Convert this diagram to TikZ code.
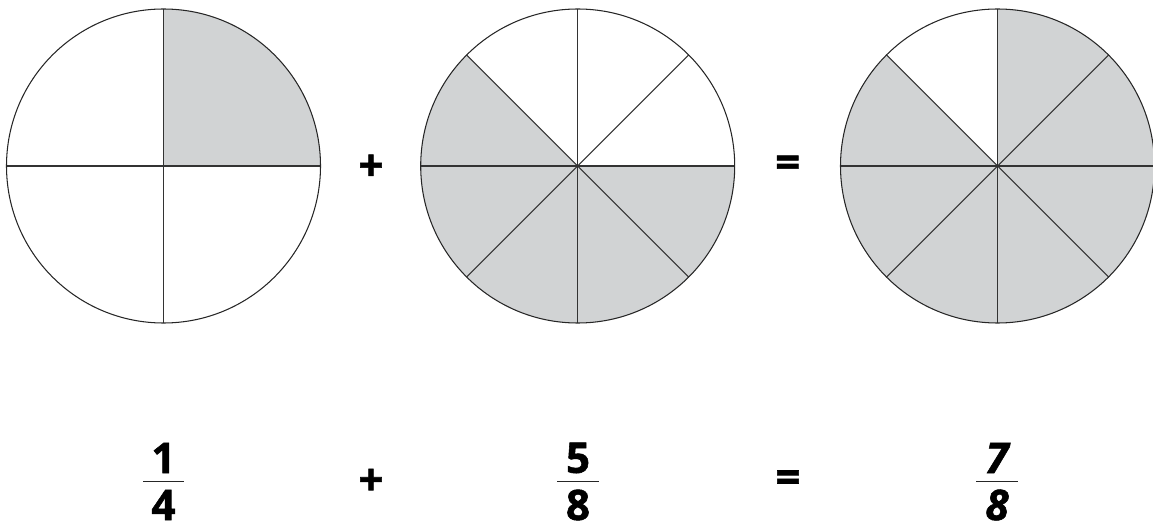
\documentclass[tikz,border=0pt]{standalone}
\usepackage{fontspec}
\setmainfont{Open Sans}
\newfontfamily\heavyfont{Open Sans}[BoldFeatures={FakeBold=1.3}, BoldItalicFeatures={FakeBold=1.3}]
\usepackage{tikz}
\usetikzlibrary{positioning,calc}

\definecolor{pieshade}{RGB}{209,211,212}

\begin{document}
\begin{tikzpicture}[
    x=0.02cm, y=0.02cm,
    pie/.style={draw=black!85, line width=0.6pt},
    spoke/.style={draw=black!80, line width=0.6pt},
    slice/.style={fill=pieshade},
    digit/.style={font=\fontsize{24}{29}\selectfont\heavyfont\bfseries, inner sep=0pt},
    sign/.style={font=\fontsize{25}{30}\selectfont\heavyfont\bfseries, inner sep=0pt},
    fracbar/.style={draw=black!85, line width=1.1pt}
]
    \useasboundingbox (0,0) rectangle (1153,528);
    \coordinate (c1) at (163.5,362);
    \coordinate (c2) at (577.7,362);
    \coordinate (c3) at (997.5,362);

    % shaded parts
    \fill[slice] (c1) -- ++(0:157) arc[start angle=0, end angle=90, radius=157] -- cycle;
    \foreach \a in {135,180,225,270,315}
        \fill[slice] (c2) -- ++(\a:157) arc[start angle=\a, end angle=\a+45, radius=157] -- cycle;
    \foreach \a in {0,45,135,180,225,270,315}
        \fill[slice] (c3) -- ++(\a:157) arc[start angle=\a, end angle=\a+45, radius=157] -- cycle;

    % dividing lines and outlines
    \foreach \a in {0,90,180,270}
        \draw[spoke] (c1) -- ++(\a:157);
    \foreach \a in {0,45,...,315} {
        \draw[spoke] (c2) -- ++(\a:157);
        \draw[spoke] (c3) -- ++(\a:157);
    }
    \draw[pie] (c1) circle[radius=157];
    \draw[pie] (c2) circle[radius=157];
    \draw[pie] (c3) circle[radius=157];

    \node[sign] (plustop) at (371,360.3) {+};
    \node[sign] (eqtop) at (787.7,361.3) {=};

    % fractions
    \node[digit] (num1) at (163.5,70) {1};
    \node[digit] (den1) at (163.5,23) {4};
    \coordinate (bar1l) at (143,46.5);
    \coordinate (bar1r) at (184,46.5);
    \draw[fracbar] (bar1l) -- (bar1r);

    \node[sign] (plusbot) at (371,46) {+};

    \node[digit] (num2) at (578,70) {5};
    \node[digit] (den2) at (578,23) {8};
    \coordinate (bar2l) at (557,46.5);
    \coordinate (bar2r) at (599,46.5);
    \draw[fracbar] (bar2l) -- (bar2r);

    \node[sign] (eqbot) at (788,46.5) {=};

    \node[digit, font=\fontsize{24}{29}\selectfont\heavyfont\bfseries\itshape] (num3) at (997,70) {7};
    \node[digit, font=\fontsize{24}{29}\selectfont\heavyfont\bfseries\itshape] (den3) at (997,23) {8};
    \coordinate (bar3l) at (976,46.5);
    \coordinate (bar3r) at (1018,46.5);
    \draw[fracbar] (bar3l) -- (bar3r);
\end{tikzpicture}
\end{document}
